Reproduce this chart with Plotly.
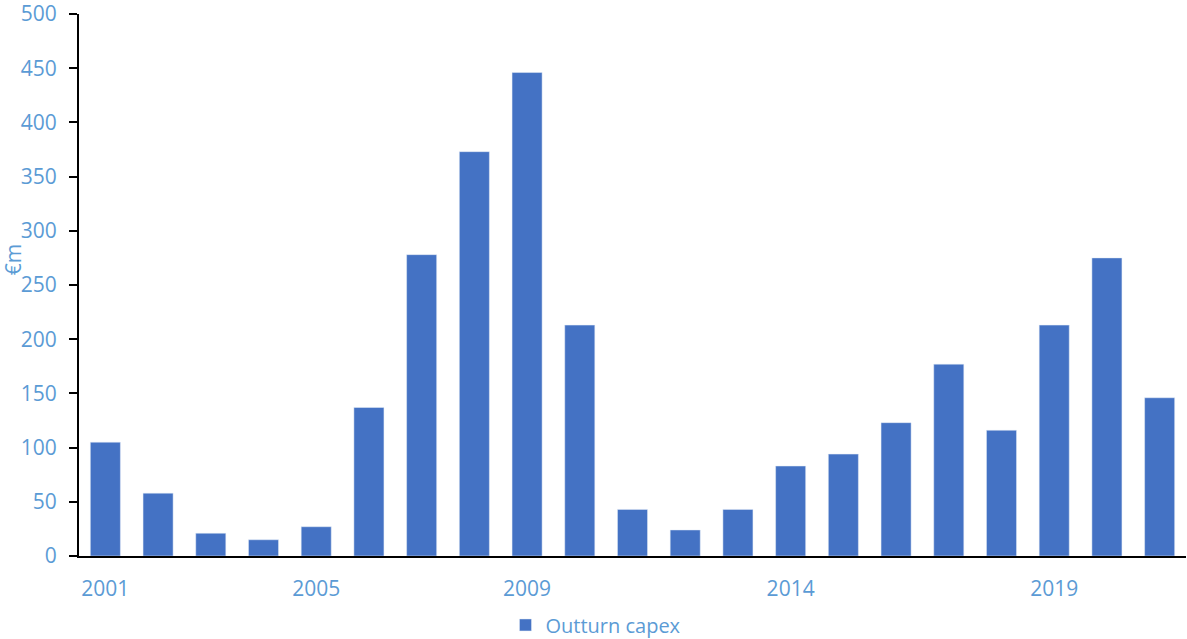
import plotly.graph_objects as go

years = [str(y) for y in range(2001, 2022)]
capex = [105, 58, 21, 15, 27, 137, 278, 373, 446, 213, 43, 24, 43, 83, 94, 123, 177, 116, 213, 275, 146]
tick_labels = ["2001", "2005", "2009", "2014", "2019"]
y_ticks = list(range(0, 501, 50))

blue = "#4472C4"
label_col = "#5B9BD5"
font_family = "Open Sans"
fs = 21

fig = go.Figure()
fig.add_trace(go.Bar(x=years, y=capex, name="Outturn capex", marker_color=blue))

fig.update_layout(
    width=1187, height=639,
    margin=dict(l=79, r=1, t=14, b=83, autoexpand=False),
    paper_bgcolor="white", plot_bgcolor="white",
    bargap=0.43,
    showlegend=True,
    legend=dict(orientation="h", x=0.467, xanchor="center", yref="container", y=0.022, yanchor="middle",
                itemwidth=30,
                font=dict(family=font_family, size=20, color=label_col)),
    font=dict(family=font_family, color=label_col),
)
fig.update_xaxes(
    type="category", tickmode="array", tickvals=tick_labels, ticktext=tick_labels,
    showline=True, linecolor="black", linewidth=2, showgrid=False, ticks="",
    tickfont=dict(family=font_family, size=fs, color=label_col),
    ticklabelstandoff=13, automargin=False,
)
fig.update_yaxes(
    range=[0, 500], tickmode="array", tickvals=y_ticks,
    showline=True, linecolor="black", linewidth=2, showgrid=False,
    ticks="outside", ticklen=8, tickwidth=2, tickcolor="black",
    tickfont=dict(family=font_family, size=fs, color=label_col),
    ticklabelstandoff=8, ticklabeloverflow="allow", automargin=False,
    zeroline=False,
)
fig.add_annotation(text="€m", xref="paper", yref="paper", x=-0.0595, y=0.546,
                   xanchor="center", yanchor="middle", textangle=-90, showarrow=False,
                   font=dict(family=font_family, size=fs, color=label_col))

fig.write_html("out.html")
